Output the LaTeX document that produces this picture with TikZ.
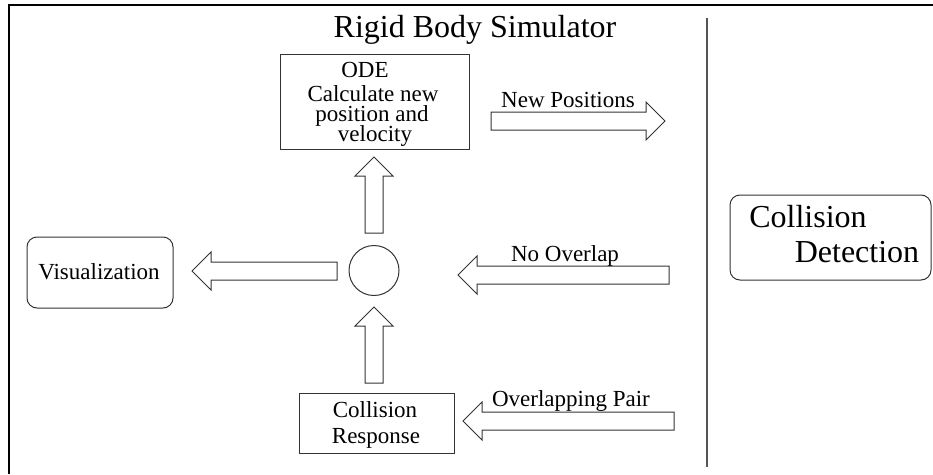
\documentclass[tikz,border=0pt]{standalone}
\usepackage{fontspec}
\setmainfont{Liberation Serif}
\usetikzlibrary{calc}
\definecolor{linegray}{HTML}{333333}
\definecolor{divgray}{HTML}{555555}
\begin{document}
\begin{tikzpicture}[x=1pt,y=-1pt,
  box/.style={draw=linegray, line width=1pt, inner sep=0pt},
  rbox/.style={box, rounded corners=10pt},
  txt/.style={anchor=base, inner sep=0pt, font=\fontsize{23}{23}\selectfont},
  bigtxt/.style={anchor=base, inner sep=0pt, font=\fontsize{32}{32}\selectfont},
  blockarrow/.style={draw=linegray, line width=1pt, line join=miter, to path={
    ($(\tikztostart)!9pt!90:(\tikztotarget)$)
    -- ($($(\tikztotarget)!19pt!(\tikztostart)$)!9pt!90:(\tikztotarget)$)
    -- ($($(\tikztotarget)!19pt!(\tikztostart)$)!19pt!90:(\tikztotarget)$)
    -- (\tikztotarget)
    -- ($($(\tikztotarget)!19pt!(\tikztostart)$)!19pt!-90:(\tikztotarget)$)
    -- ($($(\tikztotarget)!19pt!(\tikztostart)$)!9pt!-90:(\tikztotarget)$)
    -- ($(\tikztostart)!9pt!-90:(\tikztotarget)$)
    -- cycle}}
]
\useasboundingbox (0,0) rectangle (933,474);

% frame
\draw[line width=2.3pt, line join=miter] (9,474) -- (9,5) -- (933,5);
% divider
\draw[divgray, line width=1.3pt] (707,18) -- (707,467);

% title
\node[bigtxt] (title) at (475,37) {Rigid Body Simulator};

% boxes
\node[box, minimum width=189pt, minimum height=95pt] (ode) at (374.5,101.5) {};
\node[txt] (odeA) at (365,77) {ODE};
\node[txt] (odeB) at (373,101) {Calculate new};
\node[txt] (odeC) at (372,121) {position and};
\node[txt] (odeD) at (375,141) {velocity};

\node[box, circle, minimum size=50pt] (hub) at (374,270.5) {};

\node[rbox, minimum width=146pt, minimum height=71pt] (vis) at (100,272.5) {};
\node[txt] (visT) at (99,279) {Visualization};

\node[box, minimum width=155pt, minimum height=60pt] (resp) at (376.5,423) {};
\node[txt] (respA) at (375,417) {Collision};
\node[txt] (respB) at (376,443) {Response};

\node[rbox, minimum width=201pt, minimum height=85pt] (det) at (830.5,237.5) {};
\node[bigtxt] (detA) at (808,227) {Collision};
\node[bigtxt] (detB) at (857,262) {Detection};

% arrow end points
\coordinate (upAs) at (374,233);  \coordinate (upAe) at (374,157);
\coordinate (upBs) at (374,383);  \coordinate (upBe) at (374,307);
\coordinate (visS) at (337,271);  \coordinate (visE) at (192,271);
\coordinate (npS)  at (491,121);  \coordinate (npE)  at (665,121);
\coordinate (noS)  at (669,275);  \coordinate (noE)  at (458,275);
\coordinate (opS)  at (674,421);  \coordinate (opE)  at (463,421);

\draw[blockarrow] (upAs) to (upAe);
\draw[blockarrow] (upBs) to (upBe);
\draw[blockarrow] (visS) to (visE);
\draw[blockarrow] (npS) to (npE);
\draw[blockarrow] (noS) to (noE);
\draw[blockarrow] (opS) to (opE);

% arrow labels
\node[txt] (npL) at (568,107) {New Positions};
\node[txt] (noL) at (565,261) {No Overlap};
\node[txt] (opL) at (571,406) {Overlapping Pair};
\end{tikzpicture}
\end{document}
